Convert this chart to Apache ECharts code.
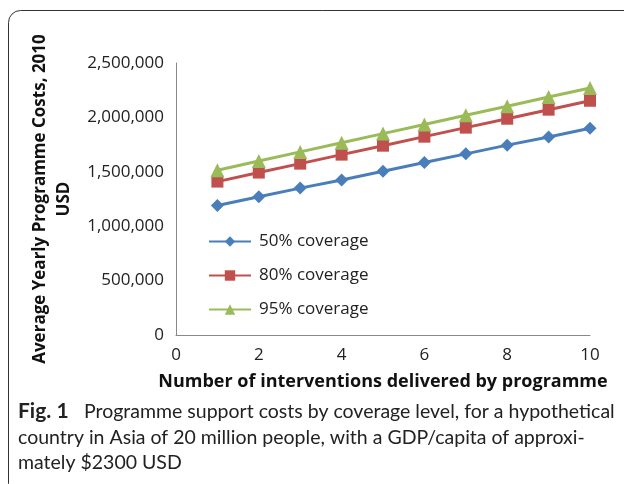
<!DOCTYPE html>
<html>
<head>
<meta charset="utf-8">
<script src="https://cdn.jsdelivr.net/npm/echarts@6/dist/echarts.min.js"></script>
<style>
  html, body { margin: 0; padding: 0; background: #fff; }
  #main { width: 624px; height: 484px; }
</style>
</head>
<body>
<div id="main"></div>
<script>
// values
var interventions = [1, 2, 3, 4, 5, 6, 7, 8, 9, 10];
var cov50 = [1190000, 1270000, 1350000, 1425000, 1505000, 1585000, 1665000, 1745000, 1820000, 1900000];
var cov80 = [1410000, 1493000, 1575000, 1658000, 1740000, 1823000, 1906000, 1988000, 2071000, 2153000];
var cov95 = [1515000, 1599000, 1683000, 1767000, 1851000, 1935000, 2019000, 2103000, 2187000, 2270000];
var seriesNames = ['50% coverage', '80% coverage', '95% coverage'];
var captionLines = [
  'Programme support costs by coverage level, for a hypothetical',
  'country in Asia of 20 million people, with a GDP/capita of approxi-',
  'mately $2300 USD'
];

var chart = echarts.init(document.getElementById('main'));

function pairs(ys) {
  return interventions.map(function (x, i) { return [x, ys[i]]; });
}

var chartFont = 'Open Sans';
var capFont = 'Lato';

var option = {
  animation: false,
  textStyle: { fontFamily: chartFont },
  grid: { left: 176, right: 34, top: 63, bottom: 149 },
  legend: {
    orient: 'vertical',
    left: 203,
    top: 228,
    itemWidth: 42,
    itemHeight: 13,
    itemGap: 17,
    data: seriesNames,
    textStyle: { fontSize: 17, color: '#222', fontFamily: chartFont, padding: [0, 0, 0, 3] }
  },
  xAxis: {
    type: 'value',
    min: 0,
    max: 10,
    interval: 2,
    name: 'Number of interventions delivered by programme',
    nameLocation: 'middle',
    nameGap: 38,
    nameTextStyle: { fontSize: 18, fontWeight: 'bold', color: '#111', fontFamily: chartFont },
    axisLine: { lineStyle: { color: '#888', width: 1 } },
    axisTick: { show: false },
    splitLine: { show: false },
    axisLabel: { fontSize: 17, color: '#222', margin: 12 }
  },
  yAxis: {
    type: 'value',
    min: 0,
    max: 2500000,
    interval: 500000,
    name: 'Average Yearly Programme Costs, 2010\nUSD',
    nameLocation: 'middle',
    nameGap: 92,
    nameRotate: 90,
    nameTextStyle: { fontSize: 17, fontWeight: 'bold', color: '#111', lineHeight: 24, fontFamily: chartFont },
    axisLine: { show: true, lineStyle: { color: '#888', width: 1 } },
    axisTick: { show: false },
    splitLine: { show: false },
    axisLabel: {
      fontSize: 17,
      color: '#222',
      margin: 12,
      formatter: function (v) { return v.toLocaleString('en-US'); }
    }
  },
  series: [
    {
      name: seriesNames[0], type: 'line', data: pairs(cov50),
      symbol: 'diamond', symbolSize: 13,
      color: '#4a7ebb',
      lineStyle: { width: 3 }
    },
    {
      name: seriesNames[1], type: 'line', data: pairs(cov80),
      symbol: 'rect', symbolSize: 12,
      color: '#c0504d',
      lineStyle: { width: 3 }
    },
    {
      name: seriesNames[2], type: 'line', data: pairs(cov95),
      symbol: 'triangle', symbolSize: 14,
      color: '#9bbb59',
      lineStyle: { width: 3 }
    }
  ],
  graphic: [
    {
      type: 'rect',
      shape: { x: 8.5, y: 10.5, width: 700, height: 485, r: 12 },
      style: { fill: 'none', stroke: '#333', lineWidth: 1 },
      silent: true
    },
    {
      type: 'text',
      left: 18, top: 401,
      style: {
        text: 'Fig. 1',
        font: 'bold 21px ' + capFont,
        fill: '#222'
      }
    },
    {
      type: 'text',
      left: 84, top: 402,
      style: { text: captionLines[0], font: '19.5px ' + capFont, fill: '#222' }
    },
    {
      type: 'text',
      left: 18, top: 428,
      style: { text: captionLines[1], font: '19.5px ' + capFont, fill: '#222' }
    },
    {
      type: 'text',
      left: 18, top: 453,
      style: { text: captionLines[2], font: '19.5px ' + capFont, fill: '#222' }
    }
  ]
};

chart.setOption(option);
</script>
</body>
</html>
